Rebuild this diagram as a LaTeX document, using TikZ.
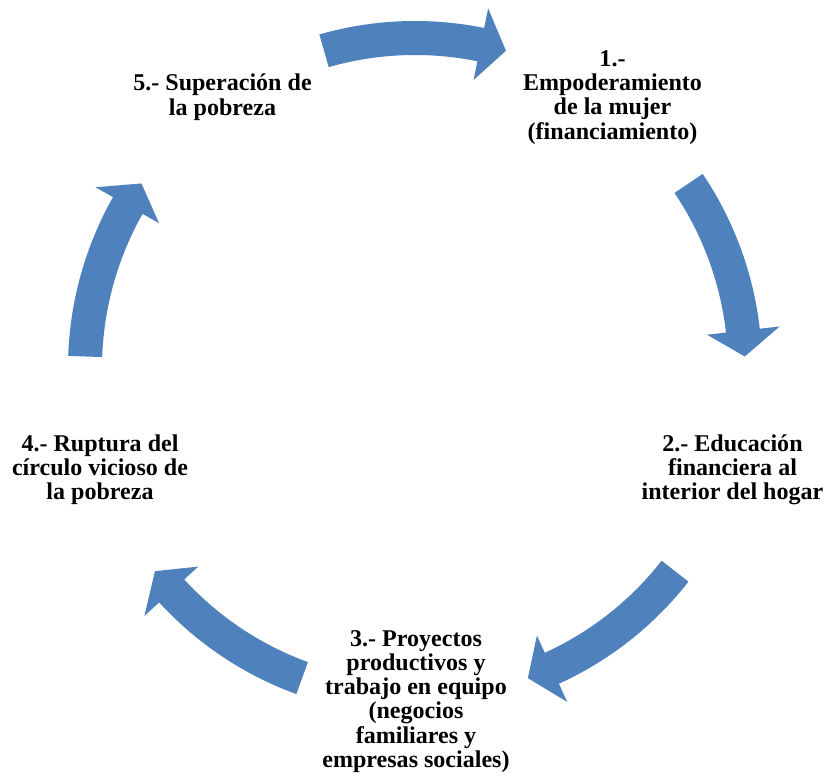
\documentclass[tikz,border=0pt]{standalone}
\usepackage{fontspec}
\setmainfont{Liberation Serif}
\definecolor{azulflecha}{RGB}{79,129,189}
\tikzset{
	paso/.style={align=center, inner sep=0pt, font=\bfseries\fontsize{17.1}{17.2}\selectfont},
	flecha/.style={fill=azulflecha, draw=none}
}
% one curved arrow of the cycle, drawn around the origin (top position)
\newcommand{\flechaciclo}{%
	\fill[flecha] (106:347) arc[start angle=106, end angle=78.5, radius=347]
		-- (78.5:367) -- (74:330) -- (78.5:294) -- (78.5:313)
		arc[start angle=78.5, end angle=106, radius=313] -- cycle;}

\begin{document}
\begin{tikzpicture}[x=0.025cm, y=0.025cm]
	\useasboundingbox (0,0) rectangle (827,775);
	\coordinate (O) at (415,407);
	\begin{scope}[shift=(O)]
	\flechaciclo
	\end{scope}
	\begin{scope}[shift=(O), rotate=-72]
	\flechaciclo
	\end{scope}
	\begin{scope}[shift=(O), rotate=-144]
	\flechaciclo
	\end{scope}
	\begin{scope}[shift=(O), rotate=-216]
	\flechaciclo
	\end{scope}
	\begin{scope}[shift=(O), rotate=-288]
	\flechaciclo
	\end{scope}
	\node[paso] (paso1) at (612.5,677.5) {1.-\\Empoderamiento\\de la mujer\\(financiamiento)};
	\node[paso] (paso2) at (732.5,305.5) {2.- Educación\\financiera al\\interior del hogar};
	\node[paso] (paso3) at (416,73.5) {3.- Proyectos\\productivos y\\trabajo en equipo\\(negocios\\familiares y\\empresas sociales)};
	\node[paso] (paso4) at (100,305) {4.- Ruptura del\\círculo vicioso de\\la pobreza};
	\node[paso] (paso5) at (222.5,677.7) {5.- Superación de\\la pobreza};
\end{tikzpicture}
\end{document}
